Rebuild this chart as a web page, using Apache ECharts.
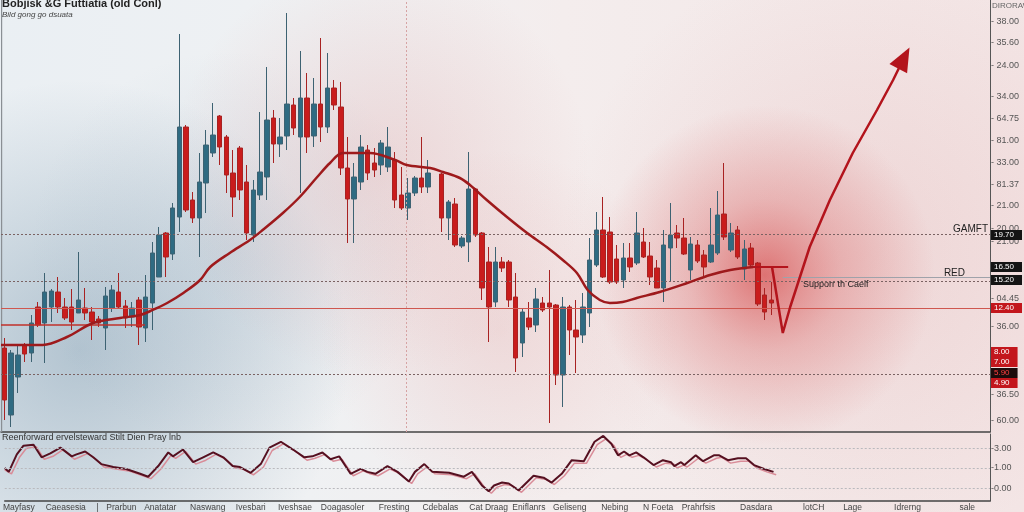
<!DOCTYPE html>
<html><head><meta charset="utf-8">
<script src="https://cdn.jsdelivr.net/npm/echarts@6/dist/echarts.min.js"></script>
<style>html,body{margin:0;padding:0;background:#f2f3f5}#c{width:1024px;height:512px}</style>
</head><body><div id="c"></div>
<script>
// ---------- DATA ----------
const slotCount = 147;
const categories = Array.from({length: slotCount}, (_, i) => 'T' + (i + 1));

// [open, close, low, high]
const candles = [
[8.4,3.2,1.2,9.4],[1.7,7.9,0.5,8.2],[5.5,7.7,3.9,8.7],[8.7,7.8,7.0,8.9],[7.9,10.9,7.0,11.7],
[12.5,10.7,10.5,13.0],[10.9,14.0,6.9,15.9],[12.5,14.1,11.0,14.3],[14.0,12.5,11.9,15.5],[12.5,11.4,11.2,13.4],
[12.5,11.0,10.2,14.3],[11.9,13.2,11.9,18.0],[12.4,11.9,11.2,14.4],[12.0,11.0,9.2,12.5],[11.3,10.9,10.5,11.6],
[10.4,13.6,8.2,14.5],[12.4,14.2,12.0,14.7],[14.0,12.5,12.4,15.9],[12.6,11.4,10.4,13.2],[11.5,12.4,10.5,13.0],
[13.2,10.5,8.7,13.5],[10.4,13.5,9.0,15.7],[12.9,17.9,10.2,19.0],[15.5,19.7,15.5,20.5],[19.9,17.5,15.5,20.0],
[17.8,22.4,17.2,22.9],[21.5,30.5,20.0,39.8],[30.5,22.2,22.0,30.7],[23.2,21.4,20.9,24.0],[21.4,25.0,17.5,27.9],
[24.9,28.7,21.9,30.2],[27.9,29.7,27.5,32.9],[31.6,28.5,26.7,31.7],[29.5,25.7,23.9,29.7],[25.9,23.5,21.5,28.2],
[28.4,24.2,23.2,28.6],[25.0,19.9,19.2,26.7],[19.7,24.2,19.0,25.2],[23.7,26.0,23.2,32.0],[25.5,31.2,23.2,36.5],
[31.4,28.8,26.9,32.2],[28.8,29.5,27.5,31.4],[29.6,32.8,28.2,41.9],[32.7,30.4,29.7,33.4],[29.5,33.4,23.9,38.1],
[33.4,29.5,27.9,35.9],[29.6,32.8,28.5,35.4],[32.8,30.5,29.0,39.4],[30.5,34.4,29.9,37.9],[34.4,32.7,32.2,35.2],
[32.5,26.4,25.7,35.0],[26.4,23.3,18.9,29.5],[23.3,25.5,18.9,26.9],[25.0,28.5,24.2,29.7],[28.2,25.9,25.2,28.7],
[26.9,26.2,25.5,28.4],[26.7,28.9,25.7,29.2],[26.5,28.5,26.0,30.5],[27.2,23.2,22.4,28.0],[23.7,22.4,22.2,26.5],
[22.4,23.9,21.2,25.4],[23.9,25.4,23.6,25.6],[25.4,24.5,23.9,29.5],[24.5,25.9,23.9,27.2],['-','-','-','-'],
[25.8,21.4,20.0,25.9],[21.4,23.0,19.2,23.2],[22.8,18.7,18.5,23.4],[18.6,19.4,18.4,19.6],[19.0,24.3,17.0,28.0],
[24.3,19.7,19.5,24.4],[19.9,14.4,13.2,20.0],[17.0,12.5,9.0,18.5],[13.0,17.0,12.5,18.5],[17.0,16.4,16.0,17.5],
[17.0,13.2,12.5,17.2],[13.5,7.4,6.0,15.9],[8.9,12.0,7.5,12.4],[11.4,10.5,10.2,13.0],[10.7,13.3,10.0,14.4],
[12.9,12.2,12.0,13.5],[12.9,12.5,0.9,16.2],[12.7,5.7,4.7,12.8],[5.7,12.5,2.5,13.5],[12.5,10.2,7.7,12.7],
[10.2,9.5,5.9,13.2],[9.7,12.5,8.9,13.9],[11.9,17.2,10.5,19.4],[16.7,20.2,16.5,22.0],[20.2,15.5,15.4,23.5],
[20.0,15.0,14.8,21.5],[17.3,15.0,14.8,18.7],[15.2,17.4,14.4,18.9],[17.4,16.5,16.0,18.9],[16.9,19.9,16.7,22.0],
[19.0,17.5,17.4,20.4],[17.6,15.5,14.7,19.0],[16.4,14.4,14.4,17.2],[14.4,18.7,13.0,20.2],[18.4,19.7,15.0,22.9],
[19.9,19.4,18.4,20.7],[19.4,17.8,17.7,21.4],[16.2,18.8,15.2,19.5],[18.7,17.1,16.9,19.2],[17.7,16.5,15.5,18.2],
[17.0,18.7,16.9,22.4],[17.9,21.7,17.7,24.1],[21.8,19.5,19.2,26.9],[18.2,19.9,18.0,20.9],[20.2,17.5,17.3,20.6],
[16.3,18.3,15.2,19.2],[18.4,16.7,16.5,18.9],[16.9,12.8,12.6,17.0],[13.7,12.0,11.2,14.4],[13.2,12.9,11.7,15.0]
];

// moving average curve
const maIdx = [-0.5,5.7,9.3,13.2,17.2,20.2,21.7,24.2,26.6,29.1,30.6,33.5,36.5,38.4,41.4,43.9,46.5,48.4,50.3,54.3,58.1,59.8,63.3,65.2,67.7,69.2,71.7,74.7,77.7,80.6,83.0,85.1,86.7,88.5,90.0,91.9,94.0,97.4,101.5,104.9,107.9,111.3];
const maVal = [8.7,8.7,9.5,10.9,11.4,11.7,12.1,12.9,13.9,15.2,16.5,17.9,19.2,20.2,21.9,23.5,25.5,26.9,27.9,27.9,27.2,26.7,26.4,26.0,25.4,24.7,23.2,21.5,19.9,18.5,17.2,15.9,14.2,13.2,12.9,13.0,13.4,14.0,14.9,15.7,16.2,16.5];

// forecast arrow
const arrowIdx = [114.1,115.7,116.8,119.7,122.7,126.1,129.7,132.1,133.7];
const arrowVal = [16.5,9.9,12.5,18.5,23.2,27.9,32.2,35.2,37.4];

// oscillator (lower panel)
const oscIdx = [-0.5,0.1,1.3,2.3,3.8,5.0,6.3,7.8,9.5,10.2,11.5,12.7,13.9,15.7,17.6,19.7,20.9,22.4,23.9,24.6,26.1,27.6,29.1,30.6,32.1,33.5,34.6,36.2,37.7,39.0,40.7,42.5,44.2,45.4,46.9,48.1,49.4,51.1,52.6,53.6,54.8,56.6,58.1,59.8,60.7,62.1,63.3,65.8,68.0,69.2,70.7,71.7,72.5,73.7,74.7,76.2,78.4,79.9,81.1,82.6,84.1,85.9,87.5,88.8,90.0,91.0,91.9,92.7,93.7,94.8,96.3,97.7,98.9,99.4,100.4,100.9,102.6,103.7,105.3,106.1,107.4,108.9,110.1,111.3,112.8,114.2];
const oscVal = [2.1,1.7,3.5,4.4,4.5,3.2,3.6,4.2,3.3,3.5,3.8,3.2,2.5,2.2,2.0,1.5,1.2,2.3,3.7,3.3,4.0,2.7,3.2,3.7,3.2,2.3,2.2,1.6,2.5,4.2,4.8,4.0,3.2,3.3,3.7,3.0,3.3,1.5,2.0,1.7,1.5,2.3,1.7,0.7,1.7,2.5,1.7,1.6,1.2,1.7,0.3,-0.3,0.3,0.6,0.5,-0.2,1.3,1.1,0.6,1.5,2.9,2.8,4.8,5.4,4.6,3.4,3.8,3.4,3.7,3.2,2.4,2.9,2.7,2.3,2.7,2.4,3.4,2.8,3.4,3.4,2.9,3.1,3.1,2.4,2.0,1.7];
const oscIdx2 = [-0.5,0.5,1.7,2.7,4.2,5.4,6.7,8.2,9.9,10.6,11.9,13.1,14.3,16.1,18.0,20.1,21.3,22.8,24.3,25.0,26.5,28.0,29.5,31.0,32.5,33.9,35.0,36.6,38.1,39.4,41.1,42.9,44.6,45.8,47.3,48.5,49.8,51.5,53.0,54.0,55.2,57.0,58.5,60.2,61.1,62.5,63.7,66.2,68.4,69.6,71.1,72.1,72.9,74.1,75.1,76.6,78.8,80.3,81.5,83.0,84.5,86.3,87.9,89.2,90.4,91.4,92.3,93.1,94.1,95.2,96.7,98.1,99.3,99.8,100.8,101.3,103.0,104.1,105.7,106.5,107.8,109.3,110.5,111.7,113.2,114.6];
const oscVal2 = [1.9,1.5,3.2,4.1,4.3,3.0,3.3,4.0,3.0,3.2,3.6,3.0,2.2,2.0,1.8,1.3,1.0,2.0,3.4,3.1,3.8,2.5,2.9,3.5,3.0,2.1,2.0,1.4,2.2,3.9,4.6,3.8,2.9,3.1,3.5,2.8,3.0,1.3,1.8,1.5,1.3,2.0,1.5,0.5,1.5,2.2,1.5,1.4,1.0,1.5,0.1,-0.5,0.1,0.4,0.3,-0.4,1.1,0.9,0.4,1.3,2.6,2.6,4.5,5.1,4.4,3.2,3.5,3.2,3.4,3.0,2.2,2.6,2.5,2.1,2.4,2.2,3.1,2.6,3.1,3.2,2.6,2.8,2.8,2.1,1.7,1.4];

// right axis tick labels (main panel)
const yTickVals = [41.0,38.9,36.6,33.5,31.3,29.1,26.9,24.7,22.6,20.3,19.0,13.3,10.5,3.7,1.1];
const yTickText = ['38.00','35.60','24.00','34.00','64.75','81.00','33.00','81.37','21.00','20.00','21.00','04.45','36.00','36.50','60.00'];
// right axis tick labels (oscillator)
const oscTickVals = [4.1,2.1,0.0];
const oscTickText = ['3.00','1.00','0.00'];
// price tags on the right edge
const tagVals = [19.7,16.5,15.2,12.4,8.0,7.0,5.9,4.9];
const tagText = ['19.70','16.50','15.20','12.40','8.00','7.00','5.90','4.90'];
const tagBg = ['#141414','#141414','#141414','#c3161c','#c3161c','#c3161c','#1c0c0c','#c3161c'];
const tagFg = ['#ffffff','#ffffff','#ffffff','#ffffff','#ffffff','#ffffff','#ff4040','#ffffff'];
// reference levels
const levelVals = [19.8,15.1,12.4,5.8];
// x-axis labels
const xLabelIdx = [1.6,8.6,13.3,16.9,22.7,29.8,36.2,42.8,49.9,57.6,64.5,71.7,77.7,83.8,90.5,97.0,103.0,111.6,120.2,126.0,134.2,143.1];
const xLabelText = ['Mayfasy','Caeasesia','|','Prarbun','Anatatar','Naswang','Ivesbari','Iveshsae','Doagasoler','Fresting','Cdebalas','Cat Draag','Eniflanrs','Geliseng','Nebing','N Foeta','Prahrfsis','Dasdara','lotCH','Lage','Idrerng','sale'];

// ---------- CHART ----------
const FONT = 'Liberation Sans, Arial, sans-serif';
const chart = echarts.init(document.getElementById('c'), null, {renderer: 'canvas'});
function lookup(vals, texts, v) {
  let best = 0, d = Infinity;
  vals.forEach((x, k) => { const dd = Math.abs(x - v); if (dd < d) { d = dd; best = k; } });
  return texts[best];
}
function radial(cx, cy, r, stops) {
  return {type: 'rect', silent: true, z: -50, shape: {x: cx - r, y: cy - r, width: 2 * r, height: 2 * r},
    style: {fill: {type: 'radial', x: 0.5, y: 0.5, r: 0.5, colorStops: stops}}};
}
const dotted = [2, 2];

const levelLines = [
  {yAxis: levelVals[0], lineStyle: {color: '#7a6262', type: dotted, width: 1}},
  {yAxis: levelVals[1], lineStyle: {color: '#7a6262', type: dotted, width: 1}},
  {yAxis: levelVals[2], lineStyle: {color: '#cf574f', type: 'solid', width: 1.2}},
  {yAxis: levelVals[3], lineStyle: {color: '#7a6262', type: dotted, width: 1}}
];
const tagLines = tagVals.map((v, k) => ({
  yAxis: v, lineStyle: {color: 'rgba(0,0,0,0)', width: 0.1},
  label: {show: true, position: 'end', distance: 1, formatter: tagText[k], backgroundColor: tagBg[k], color: tagFg[k],
    fontSize: 8, fontFamily: FONT, padding: [1, 8, 1, 3]}
}));

const arrowData = arrowIdx.map((x, k) => {
  if (k === arrowIdx.length - 1) {
    return {value: [x, arrowVal[k]], symbol: 'triangle', symbolSize: [20, 24], symbolRotate: -28, itemStyle: {color: '#b3141c'}};
  }
  return [x, arrowVal[k]];
});

const option = {
  animation: false,
  backgroundColor: '#f1f2f4',
  title: [
    {text: 'Bobjisk &G Futtiatia (old Conl)', left: 2, top: -2, padding: 0, itemGap: 2,
      textStyle: {fontSize: 11, fontWeight: 'bold', color: '#222', fontFamily: FONT},
      subtext: 'Bild gong go dsuata', subtextStyle: {fontSize: 8, fontStyle: 'italic', color: '#444', fontFamily: FONT}},
    {text: 'Reenforward ervelsteward Stilt Dien Pray lnb', left: 2, top: 433, padding: 0,
      textStyle: {fontSize: 9, fontWeight: 'normal', color: '#333', fontFamily: FONT}}
  ],
  graphic: [
    {type: 'rect', silent: true, z: -60, shape: {x: 0, y: 0, width: 1024, height: 512},
      style: {fill: {type: 'linear', x: 0, y: 0, x2: 1, y2: 0, colorStops: [
        {offset: 0, color: '#eaeff3'}, {offset: 0.3, color: '#eff1f3'}, {offset: 0.55, color: '#f4eded'}, {offset: 1, color: '#f3e5e5'}]}}},
    radial(80, 350, 270, [{offset: 0, color: 'rgba(100,135,160,0.42)'}, {offset: 1, color: 'rgba(100,135,160,0)'}]),
    radial(230, 250, 200, [{offset: 0, color: 'rgba(120,150,175,0.16)'}, {offset: 1, color: 'rgba(120,150,175,0)'}]),
    radial(380, 170, 210, [{offset: 0, color: 'rgba(215,120,120,0.22)'}, {offset: 1, color: 'rgba(215,120,120,0)'}]),
    radial(500, 330, 180, [{offset: 0, color: 'rgba(215,120,120,0.18)'}, {offset: 1, color: 'rgba(215,120,120,0)'}]),
    radial(860, 250, 300, [{offset: 0, color: 'rgba(220,150,150,0.22)'}, {offset: 1, color: 'rgba(220,150,150,0)'}]),
    radial(765, 275, 170, [{offset: 0, color: 'rgba(210,50,50,0.62)'}, {offset: 0.45, color: 'rgba(215,85,85,0.3)'}, {offset: 1, color: 'rgba(215,90,90,0)'}]),
    {type: 'rect', silent: true, z: 1, shape: {x: 1, y: 0, width: 1.2, height: 432}, style: {fill: '#8a8f94'}},
    {type: 'text', silent: true, z: 10, x: 988, y: 229, style: {text: 'GAMFT', fill: '#222', font: '10px ' + FONT, textAlign: 'right', textVerticalAlign: 'middle'}},
    {type: 'text', silent: true, z: 10, x: 965, y: 273, style: {text: 'RED', fill: '#222', font: '10px ' + FONT, textAlign: 'right', textVerticalAlign: 'middle'}},
    {type: 'text', silent: true, z: 10, x: 803, y: 285, style: {text: 'Supporr th Caelf', fill: '#222', font: '9px ' + FONT, textAlign: 'left', textVerticalAlign: 'middle'}},
    {type: 'text', silent: true, z: 10, x: 992, y: 6, style: {text: 'DIRORAW', fill: '#666', font: '8px ' + FONT, textAlign: 'left', textVerticalAlign: 'middle'}}
  ],
  grid: [
    {left: 1, right: 34, top: 0, height: 432},
    {left: 1, right: 34, top: 434, height: 69}
  ],
  xAxis: [
    {type: 'category', gridIndex: 0, data: categories, boundaryGap: true,
      axisLine: {show: true, onZero: false, lineStyle: {color: '#444', width: 1.5}}, axisTick: {show: false}, axisLabel: {show: false}, splitLine: {show: false}},
    {type: 'value', gridIndex: 0, min: -0.5, max: slotCount - 0.5, show: false, axisLine: {onZero: false}},
    {type: 'value', gridIndex: 1, min: -0.5, max: slotCount - 0.5,
      axisLine: {show: true, onZero: false, lineStyle: {color: '#444', width: 1.5}}, axisTick: {show: false}, splitLine: {show: false},
      axisLabel: {show: true, customValues: xLabelIdx, formatter: v => lookup(xLabelIdx, xLabelText, v), fontSize: 8.5, color: '#444', margin: 2, fontFamily: FONT}}
  ],
  yAxis: [
    {type: 'value', gridIndex: 0, position: 'right', min: 0, max: 43.2, splitLine: {show: false},
      axisLine: {show: true, onZero: false, lineStyle: {color: '#555'}},
      axisTick: {show: false},
      axisLabel: {show: true, customValues: yTickVals, formatter: v => '- ' + lookup(yTickVals, yTickText, v), fontSize: 9, color: '#555', margin: 1, fontFamily: FONT}},
    {type: 'value', gridIndex: 1, position: 'right', min: -1.3, max: 5.6, splitLine: {show: false},
      axisLine: {show: true, onZero: false, lineStyle: {color: '#555'}},
      axisTick: {show: false},
      axisLabel: {show: true, customValues: oscTickVals, formatter: v => '-' + lookup(oscTickVals, oscTickText, v), fontSize: 9, color: '#555', margin: 1, fontFamily: FONT}}
  ],
  series: [
    {type: 'candlestick', xAxisIndex: 0, yAxisIndex: 0, data: candles, barWidth: 5, z: 3,
      itemStyle: {color: '#2f6b82', color0: '#c91c1c', borderColor: '#3d6272', borderColor0: '#a82222', borderWidth: 1},
      markLine: {silent: true, symbol: 'none', animation: false, label: {show: false}, data: levelLines.concat(tagLines)}},
    {type: 'line', name: 'MA', xAxisIndex: 1, yAxisIndex: 0, data: maIdx.map((x, k) => [x, maVal[k]]),
      smooth: 0.35, symbol: 'none', z: 5, lineStyle: {color: '#9e1a1c', width: 2.5},
      markLine: {silent: true, symbol: 'none', animation: false, label: {show: false}, data: [
        {xAxis: 59.7, lineStyle: {color: '#d6a3a3', type: dotted, width: 1}},
        [{coord: [-0.5, 10.7], lineStyle: {color: '#c0302a', type: 'solid', width: 1.5}}, {coord: [20.9, 10.7]}],
        [{coord: [115.7, 15.5], lineStyle: {color: '#9fa2aa', type: 'solid', width: 1}}, {coord: [slotCount - 0.5, 15.5]}],
        [{coord: [110.8, 16.5], lineStyle: {color: '#b3141c', type: 'solid', width: 2}}, {coord: [116.5, 16.5]}]
      ]}},
    {type: 'line', name: 'Forecast', xAxisIndex: 1, yAxisIndex: 0, data: arrowData, smooth: false,
      symbol: 'none', z: 6, lineStyle: {color: '#b3141c', width: 2.5}},
    {type: 'line', name: 'Signal', xAxisIndex: 2, yAxisIndex: 1, data: oscIdx2.map((x, k) => [x, oscVal2[k]]),
      symbol: 'none', z: 3, lineStyle: {color: '#d98c98', width: 1.5}},
    {type: 'line', name: 'Osc', xAxisIndex: 2, yAxisIndex: 1, data: oscIdx.map((x, k) => [x, oscVal[k]]),
      symbol: 'none', z: 4, lineStyle: {color: '#551020', width: 2},
      markLine: {silent: true, symbol: 'none', animation: false, label: {show: false},
        data: oscTickVals.map(v => ({yAxis: v, lineStyle: {color: '#b9b9bd', type: dotted, width: 1}}))}}
  ]
};
chart.setOption(option);
</script></body></html>
